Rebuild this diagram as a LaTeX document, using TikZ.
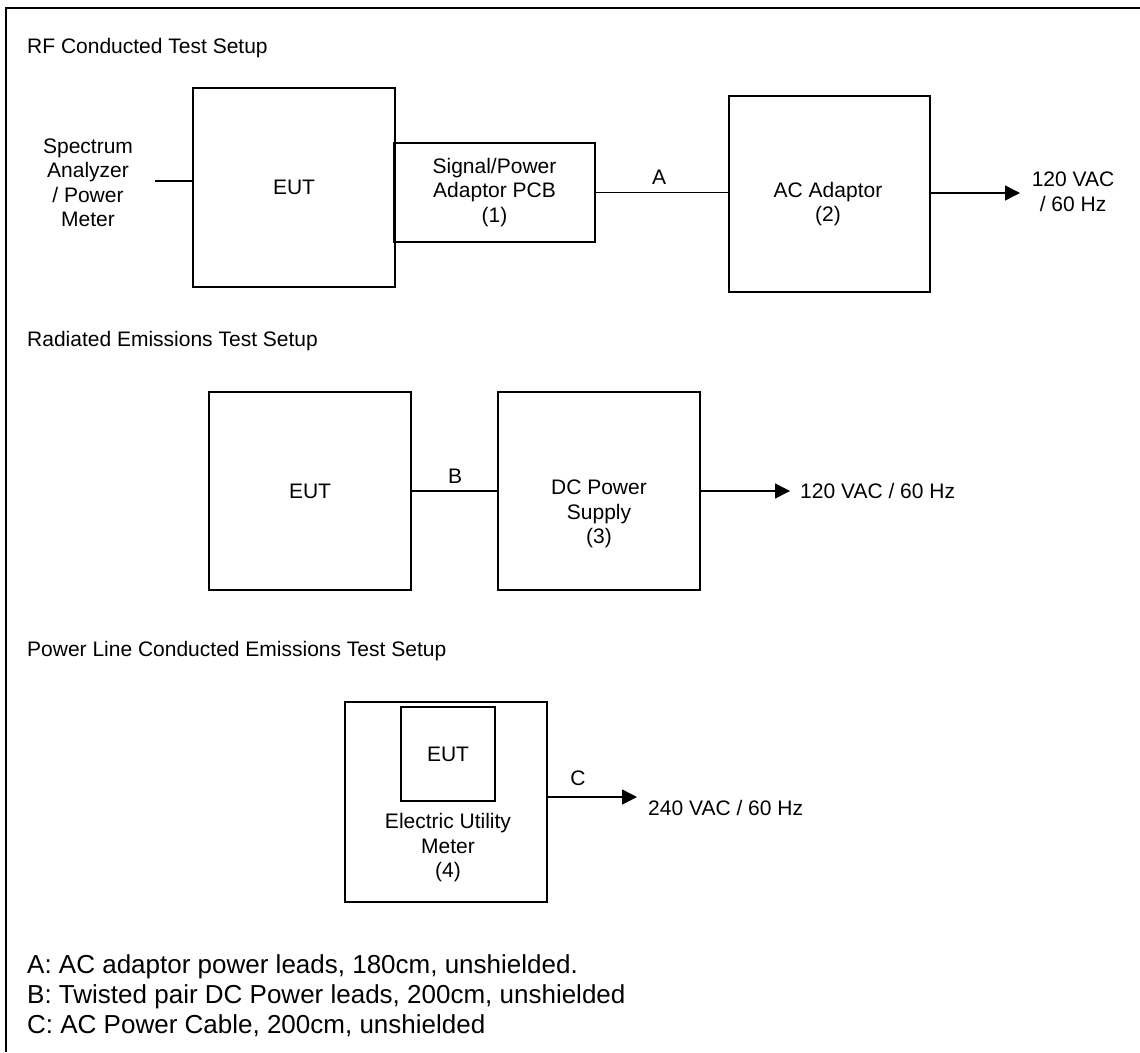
\documentclass[tikz,border=0pt]{standalone}
\usepackage{fontspec}
\setmainfont{Liberation Sans}
\usetikzlibrary{arrows.meta,positioning}

\tikzset{
  unitbox/.style={draw, line width=1.6pt, inner sep=0pt, align=center},
  boxtext/.style={align=center, inner sep=0pt},
  cable/.style={line width=1.5pt},
  feed/.style={line width=1.5pt, -{Triangle[length=15pt,width=15pt]}},
  caption/.style={anchor=base west, inner sep=0pt},
  note/.style={anchor=base west, inner sep=0pt, font=\fontsize{26}{30}\selectfont}
}

\begin{document}
\begin{tikzpicture}[x=1pt,y=-1pt,font=\fontsize{21}{24.5}\selectfont]
  \useasboundingbox (0,0) rectangle (1140,1052);
  \draw[line width=1.8pt] (1140,8) -- (6,8) -- (6,1052);

  % RF conducted setup
  \node[caption] (rfhead) at (27,53) {RF Conducted Test Setup};
  \node[boxtext] (sa) at (88,183) {Spectrum\\Analyzer\\/ Power\\Meter};
  \node[unitbox, minimum width=202pt, minimum height=199pt] (eut1) at (294,187.5) {EUT};
  \node[unitbox, minimum width=201pt, minimum height=99pt] (pcb) at (494.5,192.5)
        {Signal/Power\\Adaptor PCB\\(1)};
  \node[unitbox, minimum width=201pt, minimum height=196pt] (acad) at (829.5,194) {};
  \node[boxtext] (acadtxt) at (828,204) {AC Adaptor\\(2)};
  \node (leadA) at (659,177) {A};
  \node[boxtext] (mainsA) at (1073,192) {120 VAC\\/ 60 Hz};
  \coordinate (saend) at (155,181);
  \coordinate (tipA) at (1020,193);
  \draw[cable] (saend) -- (saend -| eut1.west);
  \draw[cable] (pcb.east) -- (pcb.east -| acad.west);
  \draw[feed] (acad.east |- tipA) -- (tipA);

  % radiated emissions setup
  \node[caption] (rehead) at (27,346) {Radiated Emissions Test Setup};
  \node[unitbox, minimum width=202pt, minimum height=198pt] (eut2) at (310,491) {EUT};
  \node[unitbox, minimum width=202pt, minimum height=198pt] (dcps) at (599,491) {};
  \node[boxtext] (dcpstxt) at (599,514) {DC Power\\Supply\\(3)};
  \node (leadB) at (455,476) {B};
  \node[anchor=west, inner sep=0pt] (mainsB) at (800,491) {120 VAC / 60 Hz};
  \coordinate (tipB) at (790,491);
  \draw[cable] (eut2.east) -- (dcps.west);
  \draw[feed] (dcps.east) -- (tipB);

  % power line conducted setup
  \node[caption] (plhead) at (27,656) {Power Line Conducted Emissions Test Setup};
  \node[unitbox, minimum width=202pt, minimum height=200pt] (meter) at (446,802) {};
  \node[unitbox, minimum width=94pt, minimum height=94pt] (eut3) at (448,754) {EUT};
  \node[boxtext] (metertxt) at (448,848) {Electric Utility\\Meter\\(4)};
  \node (leadC) at (578,778) {C};
  \node[anchor=west, inner sep=0pt] (mainsC) at (648,808) {240 VAC / 60 Hz};
  \coordinate (tipC) at (637,797);
  \draw[feed] (meter.east |- tipC) -- (tipC);

  % cable notes
  \node[note] (noteA) at (27,973) {A: AC adaptor power leads, 180cm, unshielded.};
  \node[note] (noteB) at (27,1003) {B: Twisted pair DC Power leads, 200cm, unshielded};
  \node[note] (noteC) at (27,1033) {C: AC Power Cable, 200cm, unshielded};
\end{tikzpicture}
\end{document}
